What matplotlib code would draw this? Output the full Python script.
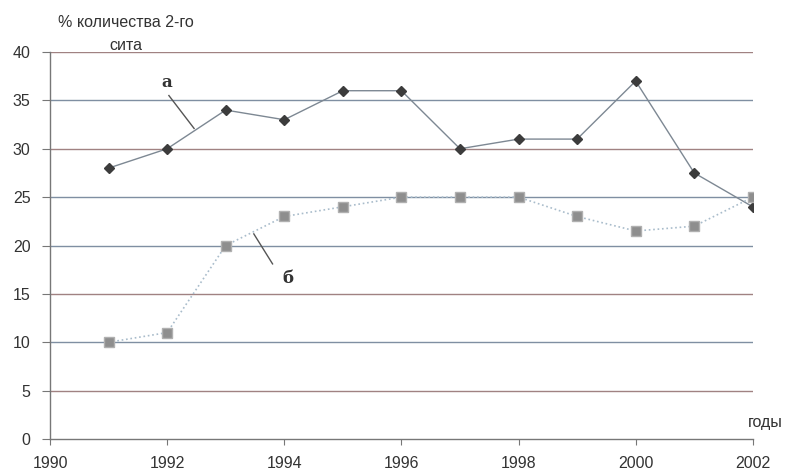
import numpy as np
import matplotlib
matplotlib.use("Agg")
import matplotlib.pyplot as plt

# Data
years = [1991, 1992, 1993, 1994, 1995, 1996, 1997, 1998, 1999, 2000, 2001, 2002]
series_a = [28, 30, 34, 33, 36, 36, 30, 31, 31, 37, 27.5, 24]
series_b = [10, 11, 20, 23, 24, 25, 25, 25, 23, 21.5, 22, 25]
y_ticks = [0, 5, 10, 15, 20, 25, 30, 35, 40]
x_ticks = [1990, 1992, 1994, 1996, 1998, 2000, 2002]

plt.rcParams['font.family'] = ['Liberation Sans', 'DejaVu Sans']

fig = plt.figure(figsize=(7.85, 4.72), dpi=100)
ax = fig.add_axes([0.0637, 0.0699, 0.8953, 0.8199])

# horizontal grid lines, scanned look: tinted red / blue
red, blue = '#a08282', '#7f8fa2'
grid_colors = [red, blue, red, blue, blue, red, blue, red]  # for 5..40
for yv, c in zip(y_ticks[1:], grid_colors):
    ax.axhline(yv, color=c, linewidth=1.0, zorder=1)

ax.plot(years, series_a, color='#7d8893', linewidth=1.0, marker='D',
        markersize=5.5, markerfacecolor='#3c3c3c', markeredgecolor='#3c3c3c', zorder=3)
ax.plot(years, series_b, color='#a9bccb', linewidth=1.2, linestyle=':',
        marker='s', markersize=7, markerfacecolor='#8e8e8e',
        markeredgecolor='#b0b0b0', zorder=3)

# labels for the curves
ax.text(1992.0, 36.9, 'а', fontsize=12, fontweight='bold', family='DejaVu Serif',
        color='#333333', ha='center', va='center')
ax.plot([1992.03, 1992.46], [35.5, 32.1], color='#555555', linewidth=1.0)
ax.text(1994.06, 16.6, 'б', fontsize=12, fontweight='bold', family='DejaVu Serif',
        color='#333333', ha='center', va='center')
ax.plot([1993.48, 1993.8], [21.2, 18.1], color='#555555', linewidth=1.0)

ax.set_xlim(1990, 2002)
ax.set_ylim(0, 40)
ax.set_xticks(x_ticks)
ax.set_yticks(y_ticks)
ax.tick_params(axis='both', labelsize=11.5, colors='#777777', labelcolor='#333333')
ax.tick_params(axis='x', direction='out', length=4, pad=8)
ax.tick_params(axis='y', direction='out', length=6, pad=8)

for s in ['top', 'right']:
    ax.spines[s].set_visible(False)
for s in ['left', 'bottom']:
    ax.spines[s].set_color('#777777')
    ax.spines[s].set_linewidth(1.0)

fig.text(126 / 785, 1 - 34 / 472, '% количества 2-го\nсита', ha='center', va='center',
         fontsize=11.5, color='#333333', linespacing=1.65)
fig.text(783 / 785, 1 - 422 / 472, 'годы', ha='right', va='center',
         fontsize=11.5, color='#333333')

plt.savefig('out.png', dpi=100)
plt.close()
